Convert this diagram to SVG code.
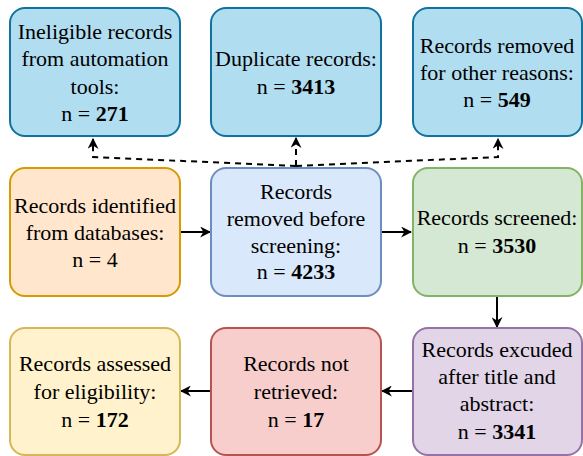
<svg xmlns="http://www.w3.org/2000/svg" width="583" height="456" viewBox="0 0 583 456">
<defs>
<style>
.box{stroke-width:2}
.t{font-size:22px;fill:#000;text-anchor:middle}
.b{font-weight:bold}
.c{fill:none;stroke:#000;stroke-width:2}
.d{stroke-dasharray:6 5}
.blue{fill:#b1ddf0;stroke:#10739e}
.lblue{fill:#dae8fc;stroke:#6c8ebf}
.orange{fill:#ffe6cc;stroke:#d79b00}
.green{fill:#d5e8d4;stroke:#82b366}
.yellow{fill:#fff2cc;stroke:#d6b656}
.red{fill:#f8cecc;stroke:#b85450}
.purple{fill:#e1d5e7;stroke:#9673a6}
</style>
<marker id="arr" viewBox="0 0 10 10" refX="9" refY="5" markerWidth="11" markerHeight="11" markerUnits="userSpaceOnUse" orient="auto">
<path d="M0,0 L10,5 L0,10 L3,5 Z" fill="#000"/>
</marker>
</defs>
<g id="connectors">
<path class="c d" d="M296,166 L93,157 L93,139" marker-end="url(#arr)"/>
<path class="c d" d="M296,166 L296,138" marker-end="url(#arr)"/>
<path class="c d" d="M296,166 L498,157 L498,139" marker-end="url(#arr)"/>
<path class="c" d="M181,232 L210,232" marker-end="url(#arr)"/>
<path class="c" d="M382,232 L411,232" marker-end="url(#arr)"/>
<path class="c" d="M497,297 L497,327" marker-end="url(#arr)"/>
<path class="c" d="M412,391 L382,391" marker-end="url(#arr)"/>
<path class="c" d="M210,391 L181,391" marker-end="url(#arr)"/>
</g>
<g font-family="Liberation Serif, Times New Roman, serif">
<g id="n1">
<rect class="box blue" x="10" y="8" width="170" height="128" rx="15"/>
<text class="t" x="95" y="38.5">Ineligible records</text>
<text class="t" x="95" y="66">from automation</text>
<text class="t" x="95" y="93.5">tools:</text>
<text class="t" x="95" y="121">n = <tspan class="b">271</tspan></text>
</g>
<g id="n2">
<rect class="box blue" x="211" y="8" width="170" height="128" rx="15"/>
<text class="t" x="296" y="66">Duplicate records:</text>
<text class="t" x="296" y="93.5">n = <tspan class="b">3413</tspan></text>
</g>
<g id="n3">
<rect class="box blue" x="413" y="8" width="169" height="128" rx="15"/>
<text class="t" x="497" y="53">Records removed</text>
<text class="t" x="497" y="80">for other reasons:</text>
<text class="t" x="497" y="107">n = <tspan class="b">549</tspan></text>
</g>
<g id="n4">
<rect class="box orange" x="10" y="168" width="170" height="128" rx="15"/>
<text class="t" x="95" y="212.5">Records identified</text>
<text class="t" x="95" y="239.5">from databases:</text>
<text class="t" x="95" y="266.5">n = 4</text>
</g>
<g id="n5">
<rect class="box lblue" x="211" y="168" width="170" height="128" rx="15"/>
<text class="t" x="296" y="198.5">Records</text>
<text class="t" x="296" y="225.5">removed before</text>
<text class="t" x="296" y="252.5">screening:</text>
<text class="t" x="296" y="279">n = <tspan class="b">4233</tspan></text>
</g>
<g id="n6">
<rect class="box green" x="413" y="168" width="169" height="128" rx="15"/>
<text class="t" x="497" y="225">Records screened:</text>
<text class="t" x="497" y="252.5">n = <tspan class="b">3530</tspan></text>
</g>
<g id="n7">
<rect class="box yellow" x="10" y="328" width="170" height="127" rx="15"/>
<text class="t" x="95" y="370.5">Records assessed</text>
<text class="t" x="95" y="398.5">for eligibility:</text>
<text class="t" x="95" y="427">n = <tspan class="b">172</tspan></text>
</g>
<g id="n8">
<rect class="box red" x="211" y="328" width="170" height="127" rx="15"/>
<text class="t" x="296" y="370.5">Records not</text>
<text class="t" x="296" y="398.5">retrieved:</text>
<text class="t" x="296" y="427">n = <tspan class="b">17</tspan></text>
</g>
<g id="n9">
<rect class="box purple" x="413" y="328" width="169" height="127" rx="15"/>
<text class="t" x="497" y="357">Records excuded</text>
<text class="t" x="497" y="384">after title and</text>
<text class="t" x="497" y="411">abstract:</text>
<text class="t" x="497" y="438.5">n = <tspan class="b">3341</tspan></text>
</g>
</g>
</svg>
